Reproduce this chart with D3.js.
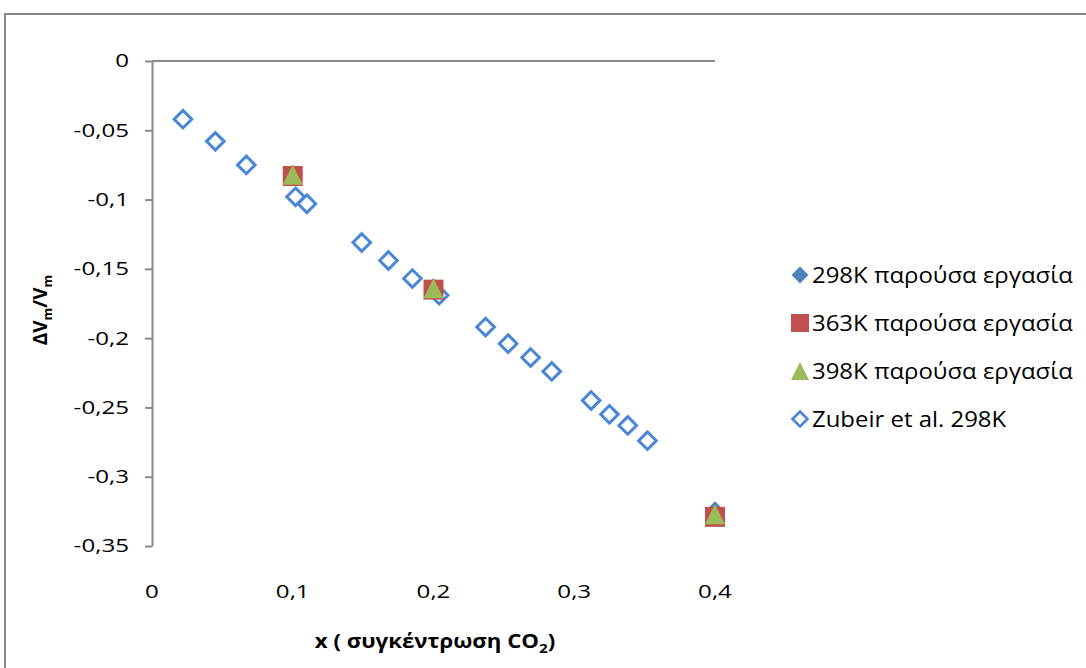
<!DOCTYPE html>
<html>
<head>
<meta charset="utf-8">
<script src="https://cdn.jsdelivr.net/npm/d3@7"></script>
<style>
  html, body { margin: 0; padding: 0; background: #fff; }
  svg { display: block; font-family: "Open Sans", "Noto Sans", sans-serif; }
</style>
</head>
<body>
<svg id="chart" width="1086" height="668"></svg>
<script>
// Molar volume change vs CO2 concentration
const xPresent = [0.1, 0.2, 0.4];
const y298 = [-0.082, -0.164, -0.325];
const y363 = [-0.083, -0.165, -0.329];
const y398 = [-0.082, -0.164, -0.327];

const xZubeir = [0.022, 0.045, 0.067, 0.102, 0.110, 0.149, 0.168, 0.185, 0.204,
                 0.237, 0.253, 0.269, 0.284, 0.312, 0.325, 0.338, 0.352];
const yZubeir = [-0.042, -0.058, -0.075, -0.098, -0.103, -0.131, -0.144, -0.157, -0.169,
                 -0.192, -0.204, -0.214, -0.224, -0.245, -0.255, -0.263, -0.274];

const xTicks = [0, 0.1, 0.2, 0.3, 0.4];
const yTicks = [0, -0.05, -0.1, -0.15, -0.2, -0.25, -0.3, -0.35];

const seriesNames = ["298K παρούσα εργασία", "363K παρούσα εργασία", "398K παρούσα εργασία", "Zubeir et al. 298K"];

const svg = d3.select("#chart");
const fmt = d => d === 0 ? "0" : String(d).replace(".", ",");

// the whole chart is drawn with slightly widened lettering
const tickStretch = 1.27;
const legendStretch = 1.14;
const titleStretch = 1.17;

// outer chart frame
svg.append("rect")
  .attr("x", 5).attr("y", 14).attr("width", 1100).attr("height", 700)
  .attr("fill", "none").attr("stroke", "#898989").attr("stroke-width", 2);

const x = d3.scaleLinear().domain([0, 0.4]).range([152, 715]);
const y = d3.scaleLinear().domain([-0.35, 0]).range([546, 61]);

// vertical axis with outside ticks (labels placed separately)
const yAxis = svg.append("g").attr("transform", `translate(${x(0)},0)`)
  .call(d3.axisLeft(y).tickValues(yTicks).tickFormat("").tickSize(7).tickSizeOuter(0));
yAxis.select(".domain").attr("stroke", "#898989").attr("stroke-width", 2);
yAxis.selectAll(".tick line").attr("stroke", "#898989").attr("stroke-width", 2);

svg.append("g").selectAll("text").data(yTicks).join("text")
  .attr("transform", d => `translate(129,${y(d)}) scale(${tickStretch},1)`)
  .attr("dy", "0.34em")
  .attr("text-anchor", "end").attr("font-size", 19).attr("fill", "#000")
  .text(fmt);

// horizontal axis line at y = 0
svg.append("line")
  .attr("x1", x(0)).attr("x2", x(0.4)).attr("y1", y(0)).attr("y2", y(0))
  .attr("stroke", "#898989").attr("stroke-width", 2);

// horizontal tick labels sit below the plot
svg.append("g").selectAll("text").data(xTicks).join("text")
  .attr("transform", d => `translate(${x(d)},598) scale(${tickStretch},1)`)
  .attr("text-anchor", "middle").attr("font-size", 19).attr("fill", "#000")
  .text(fmt);

// marker shapes
const diamond = r => `M0,${-r}L${r},0L0,${r}L${-r},0Z`;
const square = r => `M${-r},${-r}H${r}V${r}H${-r}Z`;
const triangle = r => `M0,${-r}L${r},${r}L${-r},${r}Z`;

const colors = { d298: "#4F81BD", s363: "#C0504D", t398: "#9BBB59", zub: "#4A86D8" };

const plot = svg.append("g");

plot.selectAll(".z").data(xZubeir.map((v, i) => [v, yZubeir[i]])).join("path")
  .attr("class", "z")
  .attr("transform", d => `translate(${x(d[0])},${y(d[1])})`)
  .attr("d", diamond(8.8)).attr("fill", "none")
  .attr("stroke", colors.zub).attr("stroke-width", 3).attr("stroke-linejoin", "miter");

plot.selectAll(".d298").data(xPresent.map((v, i) => [v, y298[i]])).join("path")
  .attr("class", "d298")
  .attr("transform", d => `translate(${x(d[0])},${y(d[1])})`)
  .attr("d", diamond(10)).attr("fill", colors.d298);

plot.selectAll(".s363").data(xPresent.map((v, i) => [v, y363[i]])).join("path")
  .attr("class", "s363")
  .attr("transform", d => `translate(${x(d[0])},${y(d[1])})`)
  .attr("d", square(10)).attr("fill", colors.s363);

plot.selectAll(".t398").data(xPresent.map((v, i) => [v, y398[i]])).join("path")
  .attr("class", "t398")
  .attr("transform", d => `translate(${x(d[0])},${y(d[1])})`)
  .attr("d", triangle(10)).attr("fill", colors.t398);

// legend
const legendRows = [
  { name: seriesNames[0], shape: diamond(8.5), fill: colors.d298, stroke: "none" },
  { name: seriesNames[1], shape: square(9), fill: colors.s363, stroke: "none" },
  { name: seriesNames[2], shape: triangle(9), fill: colors.t398, stroke: "none" },
  { name: seriesNames[3], shape: diamond(7.5), fill: "none", stroke: colors.zub }
];
const legend = svg.append("g").selectAll("g").data(legendRows).join("g")
  .attr("transform", (d, i) => `translate(800,${275 + i * 48})`);
legend.append("path").attr("d", d => d.shape).attr("fill", d => d.fill)
  .attr("stroke", d => d.stroke).attr("stroke-width", 2.6);
legend.append("text")
  .attr("transform", `translate(12,7.5) scale(${legendStretch},1)`)
  .attr("font-size", 21).attr("fill", "#000")
  .text(d => d.name);

// axis titles
const yTitle = svg.append("text")
  .attr("transform", "translate(47,310) rotate(-90)")
  .attr("text-anchor", "middle").attr("font-size", 19).attr("font-weight", "bold").attr("fill", "#000");
yTitle.append("tspan").text("ΔV");
yTitle.append("tspan").attr("font-size", 13).attr("dy", 5).text("m");
yTitle.append("tspan").attr("dy", -5).text("/V");
yTitle.append("tspan").attr("font-size", 13).attr("dy", 5).text("m");

const xTitle = svg.append("text")
  .attr("transform", `translate(435,648) scale(${titleStretch},1)`)
  .attr("text-anchor", "middle").attr("font-size", 19).attr("font-weight", "bold").attr("fill", "#000");
xTitle.append("tspan").text("x ( συγκέντρωση CO");
xTitle.append("tspan").attr("font-size", 13).attr("dy", 5).text("2");
xTitle.append("tspan").attr("dy", -5).text(")");
</script>
</body>
</html>
